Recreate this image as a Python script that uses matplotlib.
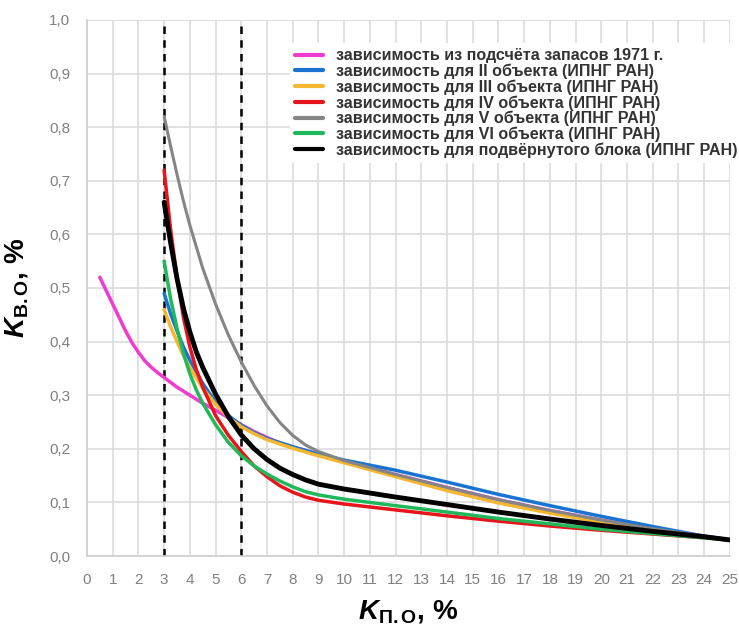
import numpy as np
import matplotlib
matplotlib.use('Agg')
import matplotlib.pyplot as plt

plt.rcParams['font.family'] = ['Liberation Sans', 'DejaVu Sans']
plt.rcParams['mathtext.fontset'] = 'custom'
plt.rcParams['mathtext.it'] = 'Liberation Sans:bold:italic'
plt.rcParams['mathtext.rm'] = 'Liberation Sans:bold'

# кривые (Кп.о, Кв.о)
x_pink = [0.5, 0.75, 1.0, 1.25, 1.5, 1.75, 2.0, 2.25, 2.5, 2.75, 3.0, 3.5, 4.0, 4.5, 5.0, 5.5, 6.0, 6.5, 7.0, 7.5, 8.0, 9.0, 10.0, 12.0, 14.0, 16.0, 18.0, 20.0, 22.0, 24.0, 25.0]
y_pink = [0.52, 0.495, 0.47, 0.445, 0.42, 0.398, 0.38, 0.364, 0.352, 0.342, 0.333, 0.315, 0.30, 0.285, 0.272, 0.258, 0.245, 0.232, 0.221, 0.211, 0.203, 0.19, 0.177, 0.152, 0.128, 0.105, 0.085, 0.067, 0.051, 0.037, 0.03]

x_blue = [3.0, 3.25, 3.5, 3.75, 4.0, 4.5, 5.0, 5.5, 6.0, 6.5, 7.0, 8.0, 9.0, 10.0, 12.0, 14.0, 16.0, 18.0, 20.0, 22.0, 24.0, 25.0]
y_blue = [0.49, 0.452, 0.42, 0.39, 0.365, 0.322, 0.287, 0.262, 0.244, 0.23, 0.219, 0.204, 0.19, 0.179, 0.16, 0.138, 0.115, 0.094, 0.074, 0.055, 0.037, 0.03]

x_yellow = [3.0, 3.25, 3.5, 3.75, 4.0, 4.5, 5.0, 5.5, 6.0, 6.5, 7.0, 8.0, 9.0, 10.0, 12.0, 14.0, 16.0, 18.0, 20.0, 22.0, 24.0, 25.0]
y_yellow = [0.46, 0.428, 0.40, 0.374, 0.352, 0.313, 0.283, 0.259, 0.241, 0.228, 0.217, 0.201, 0.187, 0.174, 0.148, 0.122, 0.099, 0.08, 0.063, 0.049, 0.036, 0.03]

x_red = [3.0, 3.25, 3.5, 3.75, 4.0, 4.25, 4.5, 5.0, 5.5, 6.0, 6.5, 7.0, 7.5, 8.0, 8.5, 9.0, 10.0, 12.0, 14.0, 16.0, 18.0, 20.0, 22.0, 24.0, 25.0]
y_red = [0.72, 0.61, 0.52, 0.445, 0.39, 0.348, 0.315, 0.262, 0.225, 0.195, 0.168, 0.148, 0.131, 0.119, 0.11, 0.104, 0.097, 0.086, 0.075, 0.065, 0.056, 0.048, 0.041, 0.034, 0.03]

x_gray = [3.0, 3.25, 3.5, 3.75, 4.0, 4.5, 5.0, 5.5, 6.0, 6.5, 7.0, 7.5, 8.0, 8.5, 9.0, 10.0, 12.0, 14.0, 16.0, 18.0, 20.0, 22.0, 24.0, 25.0]
y_gray = [0.82, 0.765, 0.712, 0.662, 0.617, 0.537, 0.47, 0.412, 0.362, 0.318, 0.28, 0.249, 0.225, 0.207, 0.195, 0.178, 0.152, 0.128, 0.105, 0.085, 0.067, 0.051, 0.037, 0.03]

x_green = [3.0, 3.25, 3.5, 3.75, 4.0, 4.25, 4.5, 5.0, 5.5, 6.0, 6.5, 7.0, 7.5, 8.0, 8.5, 9.0, 10.0, 12.0, 14.0, 16.0, 18.0, 20.0, 22.0, 24.0, 25.0]
y_green = [0.55, 0.48, 0.425, 0.378, 0.34, 0.31, 0.285, 0.245, 0.212, 0.187, 0.168, 0.153, 0.14, 0.129, 0.12, 0.114, 0.106, 0.094, 0.082, 0.07, 0.06, 0.05, 0.042, 0.034, 0.03]

x_black = [3.0, 3.25, 3.5, 3.75, 4.0, 4.25, 4.5, 5.0, 5.5, 6.0, 6.5, 7.0, 7.5, 8.0, 8.5, 9.0, 10.0, 12.0, 14.0, 16.0, 18.0, 20.0, 22.0, 24.0, 25.0]
y_black = [0.66, 0.585, 0.518, 0.462, 0.418, 0.381, 0.352, 0.302, 0.26, 0.226, 0.2, 0.18, 0.164, 0.152, 0.142, 0.134, 0.125, 0.11, 0.096, 0.082, 0.069, 0.057, 0.046, 0.036, 0.03]

labels = [
    'зависимость из подсчёта запасов 1971 г.',
    'зависимость для II объекта (ИПНГ РАН)',
    'зависимость для III объекта (ИПНГ РАН)',
    'зависимость для IV объекта (ИПНГ РАН)',
    'зависимость для V объекта (ИПНГ РАН)',
    'зависимость для VI объекта (ИПНГ РАН)',
    'зависимость для подвёрнутого блока (ИПНГ РАН)',
]

x_ticks = list(range(0, 26))
y_ticks = [0.0, 0.1, 0.2, 0.3, 0.4, 0.5, 0.6, 0.7, 0.8, 0.9, 1.0]
y_tick_labels = ['0,0', '0,1', '0,2', '0,3', '0,4', '0,5', '0,6', '0,7', '0,8', '0,9', '1,0']
cutoffs = [3, 6]

fig = plt.figure(figsize=(7.39, 6.27), dpi=100)
ax = fig.add_axes([0.1177, 0.1132, 0.870, 0.855])

ax.set_xlim(0, 25)
ax.set_ylim(0, 1.0)
ax.set_xticks(x_ticks)
ax.set_yticks(y_ticks)
ax.set_yticklabels(y_tick_labels)
ax.grid(True, color='#dcdcdc', linewidth=1.2)
ax.set_axisbelow(True)
for side in ['top', 'right']:
    ax.spines[side].set_visible(False)
for side in ['left', 'bottom']:
    ax.spines[side].set_color('#cfcfcf')
    ax.spines[side].set_linewidth(1.2)
ax.tick_params(length=0, pad=12, labelsize=11, labelcolor='#808080')

for xc in cutoffs:
    ax.axvline(xc, color='black', linestyle=(0, (3, 2.5)), linewidth=1.8, zorder=1)

series = [
    (x_pink, y_pink, '#ee3bd0', 2.5),
    (x_blue, y_blue, '#1a73d0', 2.5),
    (x_yellow, y_yellow, '#f5b731', 2.5),
    (x_red, y_red, '#e8141c', 2.5),
    (x_gray, y_gray, '#858585', 2.2),
    (x_green, y_green, '#20b85a', 2.5),
    (x_black, y_black, '#000000', 3.5),
]
for (xs, ys, c, lw), lab in zip(series, labels):
    ax.plot(xs, ys, color=c, linewidth=lw, label=lab, solid_capstyle='round', solid_joinstyle='round')

leg = ax.legend(loc='upper left', bbox_to_anchor=(0.392, 0.932), bbox_transform=fig.transFigure,
                frameon=True, fancybox=False, edgecolor='none', facecolor='white', framealpha=1,
                prop={'weight': 'bold', 'size': 11.6}, handlelength=1.7, handletextpad=0.85,
                labelspacing=0.02, borderpad=0.35, borderaxespad=0)
for t in leg.get_texts():
    t.set_color('#333333')
for h in leg.get_lines():
    h.set_linewidth(3)

ax.set_ylabel(r'$K_{\mathrm{В.О}}$, %', fontsize=20, fontweight='bold', labelpad=14)
ax.set_xlabel(r'$K_{\mathrm{П.О}}$, %', fontsize=20, fontweight='bold', labelpad=8)

fig.savefig('out.png', dpi=100)
